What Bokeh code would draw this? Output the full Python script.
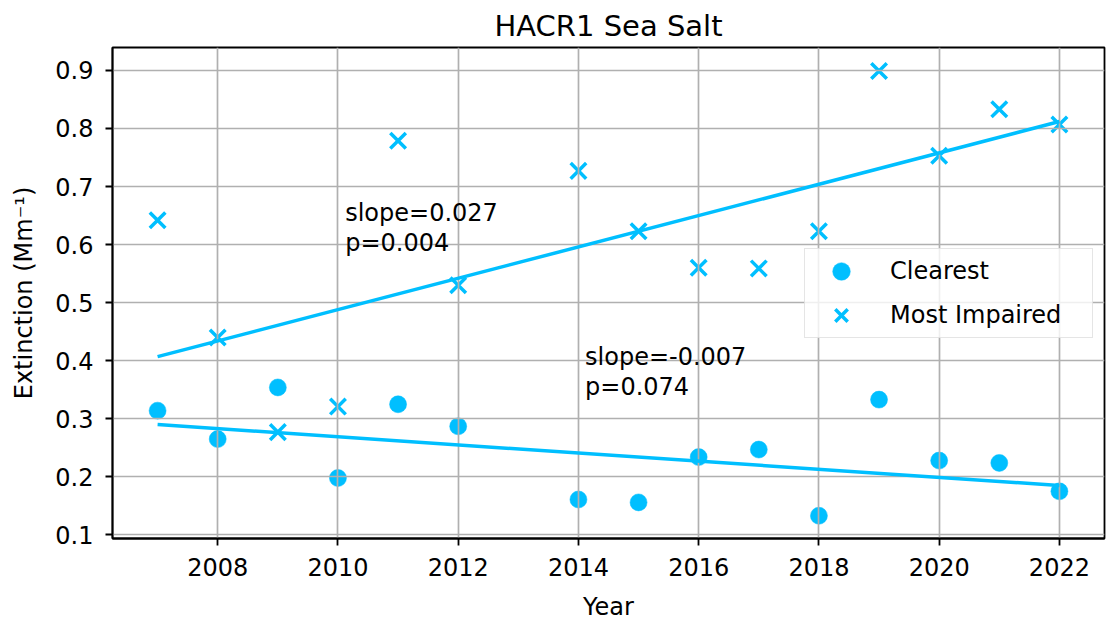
import numpy as np
from bokeh.plotting import figure
from bokeh.models import Range1d, FixedTicker, PrintfTickFormatter, Label, Legend, LegendItem
from bokeh.embed import file_html
from bokeh.resources import INLINE

# ---- data ----
years = [2007, 2008, 2009, 2010, 2011, 2012, 2014, 2015, 2016, 2017, 2018, 2019, 2020, 2021, 2022]
clearest = [0.314, 0.265, 0.354, 0.198, 0.325, 0.287, 0.161, 0.156, 0.234, 0.247, 0.133, 0.333, 0.228, 0.224, 0.175]
most_impaired = [0.642, 0.440, 0.277, 0.321, 0.779, 0.530, 0.727, 0.623, 0.560, 0.559, 0.623, 0.899, 0.753, 0.833, 0.807]
x_ticks = [2008, 2010, 2012, 2014, 2016, 2018, 2020, 2022]
y_ticks = [0.1, 0.2, 0.3, 0.4, 0.5, 0.6, 0.7, 0.8, 0.9]
annot_impaired = ["slope=0.027", "p=0.004"]
annot_clearest = ["slope=-0.007", "p=0.074"]

COLOR = "#00BFFF"
FONT = "DejaVu Sans"


def theil_sen(x, y):
    x = np.asarray(x, dtype=float)
    y = np.asarray(y, dtype=float)
    i, j = np.triu_indices(len(x), k=1)
    dx = x[j] - x[i]
    ok = dx != 0
    slope = np.median((y[j] - y[i])[ok] / dx[ok])
    intercept = np.median(y) - slope * np.median(x)
    return slope, intercept


p = figure(width=1107, height=623, output_backend="svg", toolbar_location=None,
           x_range=Range1d(2006.25, 2022.75), y_range=Range1d(0.0938, 0.9395),
           min_border_left=112, min_border_right=3, min_border_top=47, min_border_bottom=83)

p.title.text = "HACR1 Sea Salt"
p.title.text_font = FONT
p.title.text_font_size = "29px"
p.title.text_font_style = "normal"
p.title.text_color = "black"
p.title.align = "center"
p.title.vertical_align = "top"
p.title.standoff = 6

p.outline_line_color = "black"
p.outline_line_width = 1.8
p.outline_line_alpha = 1

for ax in (p.xaxis[0], p.yaxis[0]):
    ax.axis_line_color = "black"
    ax.axis_line_width = 1.8
    ax.major_tick_line_color = "black"
    ax.major_tick_line_width = 1.8
    ax.major_tick_out = 7
    ax.major_tick_in = 0
    ax.minor_tick_line_color = None
    ax.major_label_text_font = FONT
    ax.major_label_text_font_size = "24px"
    ax.major_label_text_color = "black"
    ax.axis_label_text_font = FONT
    ax.axis_label_text_font_size = "24px"
    ax.axis_label_text_font_style = "normal"
    ax.axis_label_text_color = "black"

p.xaxis.ticker = FixedTicker(ticks=x_ticks)
p.xaxis.formatter = PrintfTickFormatter(format="%d")
p.yaxis.ticker = FixedTicker(ticks=y_ticks)
p.yaxis.formatter = PrintfTickFormatter(format="%.1f")
p.xaxis.axis_label = "Year"
p.yaxis.axis_label = "Extinction (Mm\u207b\u00b9)"
p.xaxis.major_label_standoff = 12
p.yaxis.major_label_standoff = 12
p.xaxis.axis_label_standoff = 14
p.yaxis.axis_label_standoff = 14

for g in (p.xgrid[0], p.ygrid[0]):
    g.grid_line_color = "#b0b0b0"
    g.grid_line_width = 1.7

# scatter points (below grid like matplotlib collections)
r_clear = p.scatter(years, clearest, marker="circle", size=17, fill_color=COLOR, line_color=COLOR, line_width=0.5)
r_imp = p.scatter(years, most_impaired, marker="x", size=22, line_color=COLOR, line_width=3.5)
r_clear.level = "image"
r_imp.level = "image"

# Theil-Sen trend lines
for series in (most_impaired, clearest):
    m, b = theil_sen(years, series)
    xs = [min(years), max(years)]
    p.line(xs, [m * xs[0] + b, m * xs[1] + b], line_color=COLOR, line_width=3.5)

# annotations
for (xa, ya, lines) in ((2010.12, 0.603, annot_impaired), (2014.11, 0.355, annot_clearest)):
    p.add_layout(Label(x=xa, y=ya, y_offset=30, text=lines[0], text_font=FONT, text_font_size="24px",
                       text_color="black", text_baseline="alphabetic"))
    p.add_layout(Label(x=xa, y=ya, text=lines[1], text_font=FONT, text_font_size="24px",
                       text_color="black", text_baseline="alphabetic"))

legend = Legend(items=[LegendItem(label="Clearest", renderers=[r_clear]),
                       LegendItem(label="Most Impaired", renderers=[r_imp])],
                location=(692, 200))
legend.label_text_font = FONT
legend.label_text_font_size = "24px"
legend.label_text_color = "black"
legend.glyph_height = 44
legend.glyph_width = 72
legend.spacing = -3
legend.padding = 0
legend.margin = 0
legend.label_standoff = 13
legend.label_width = 202
legend.border_line_color = "#cccccc"
legend.border_line_width = 1.5
legend.background_fill_alpha = 0.8
p.add_layout(legend)

open("out.html", "w").write(file_html(p, INLINE))
